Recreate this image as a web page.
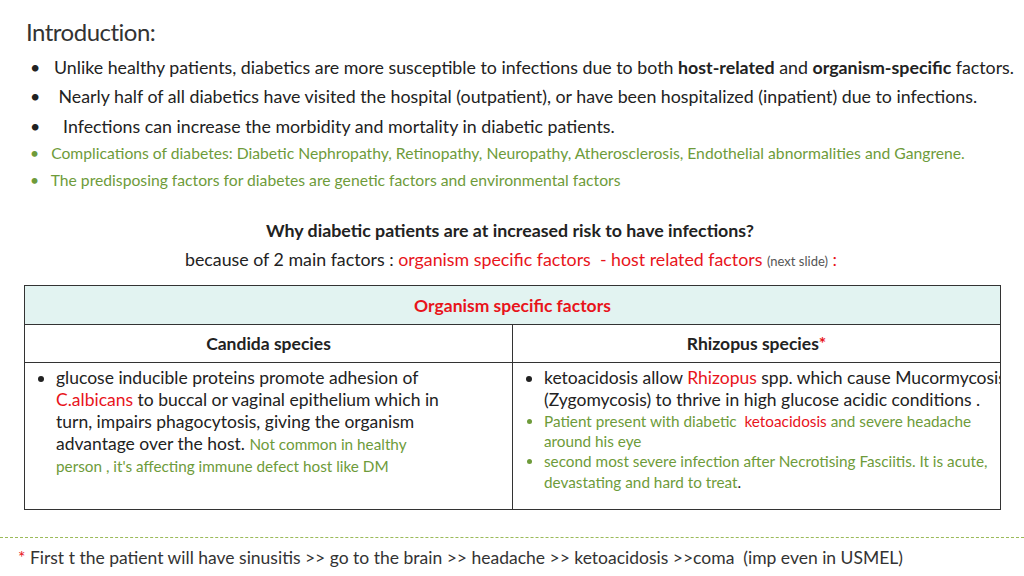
<!DOCTYPE html>
<html><head><meta charset="utf-8">
<script src="https://cdn.jsdelivr.net/npm/chart.js@4"></script>
<style>
body{margin:0;width:1024px;height:576px;background:#fff;font-family:Lato,"Open Sans",sans-serif;color:#222;position:relative;overflow:hidden}
.a{position:absolute;white-space:nowrap}
.t{font-size:24px;color:#333;left:26px;top:17px;letter-spacing:-0.5px}
.b{font-size:17.8px}
.g{font-size:15.7px;color:#6e9b3a}
.r{color:#e8141b}
table{position:absolute;left:24px;top:285px;width:977px;border-collapse:collapse;font-size:17.5px;table-layout:fixed}
td{border:1px solid #333;vertical-align:top;overflow:hidden}
ul{margin:0;padding-left:30px}
li{line-height:22px;white-space:nowrap}
.gs{color:#6e9b3a;font-size:15.3px}
</style></head><body>
<div class="a t">Introduction:</div>
<div class="a b" style="left:30px;top:56px">•&nbsp;&nbsp; Unlike healthy patients, diabetics are more susceptible to infections due to both <b>host-related</b> and <b>organism-specific</b> factors.</div>
<div class="a b" style="left:30px;top:85px">•&nbsp;&nbsp;&nbsp; Nearly half of all diabetics have visited the hospital (outpatient), or have been hospitalized (inpatient) due to infections.</div>
<div class="a b" style="left:30px;top:115px">•&nbsp;&nbsp;&nbsp;&nbsp; Infections can increase the morbidity and mortality in diabetic patients.</div>
<div class="a g" style="left:30px;top:144px">•&nbsp;&nbsp; Complications of diabetes: Diabetic Nephropathy, Retinopathy, Neuropathy, Atherosclerosis, Endothelial abnormalities and Gangrene.</div>
<div class="a g" style="left:30px;top:171px">•&nbsp;&nbsp; The predisposing factors for diabetes are genetic factors and environmental factors</div>
<div class="a b" style="left:266px;top:219px;font-weight:bold">Why diabetic patients are at increased risk to have infections?</div>
<div class="a b" style="left:185px;top:248px">because of 2 main factors : <span class="r">organism specific factors&nbsp; - host related factors</span> <span style="font-size:13px;color:#555">(next slide)</span> <span class="r">:</span></div>
<table>
<tr><td colspan="2" style="background:#e2f3f1;height:36px;text-align:center;vertical-align:middle;font-weight:bold;color:#e8141b">Organism specific factors</td></tr>
<tr><td style="width:447px;height:35px;text-align:center;vertical-align:middle;font-weight:bold">Candida species</td><td style="text-align:center;vertical-align:middle;font-weight:bold">Rhizopus species<span class="r">*</span></td></tr>
<tr><td style="height:141px;padding-top:4px"><ul><li>glucose inducible proteins promote adhesion of<br><span class="r">C.albicans</span> to buccal or vaginal epithelium which in<br>turn, impairs phagocytosis, giving the organism<br>advantage over the host. <span class="gs">Not common in healthy</span><br><span class="gs">person , it's affecting immune defect host like DM</span></li></ul></td>
<td style="padding-top:4px"><ul><li>ketoacidosis allow <span class="r">Rhizopus</span> spp. which cause Mucormycosis<br>(Zygomycosis) to thrive in high glucose acidic conditions .</li>
<li class="gs" style="line-height:20px">Patient present with diabetic&nbsp; <span class="r">ketoacidosis</span> and severe headache<br>around his eye</li>
<li class="gs" style="line-height:21px">second most severe infection after Necrotising Fasciitis. It is acute,<br>devastating and hard to treat<span style="color:#222">.</span></li></ul></td></tr>
</table>
<div class="a" style="left:0;top:537px;width:1024px;border-top:1px dashed #9bbb59"></div>
<div class="a" style="left:18px;top:547px;font-size:17.5px;color:#333"><span class="r">*</span> First t the patient will have sinusitis &gt;&gt; go to the brain &gt;&gt; headache &gt;&gt; ketoacidosis &gt;&gt;coma&nbsp; (imp even in USMEL)</div>
</body></html>
